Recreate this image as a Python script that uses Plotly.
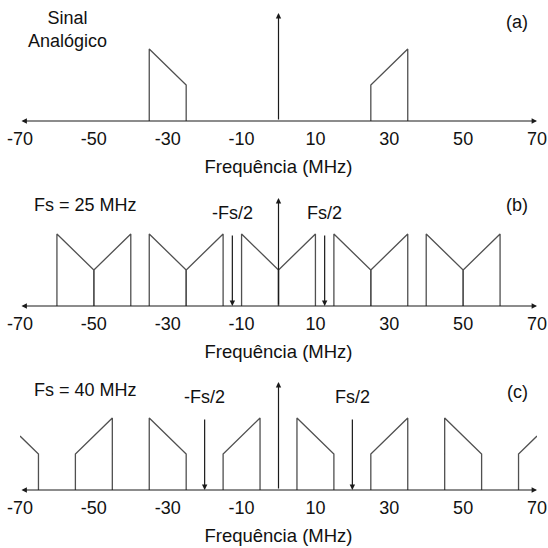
import plotly.graph_objects as go

# ---------------- data ----------------
FREQ_TICKS = [-70, -50, -30, -10, 10, 30, 50, 70]
X_MIN, X_MAX = -70, 70
BAND_WIDTH = 10          # MHz
TALL, LOW = 1.0, 0.5     # relative amplitude at band edges
AXIS_ARROW_TOP = 1.5

# (a) analog signal
A_BAND_START = [-35, 25]
A_BAND_SLOPE = ["down", "up"]

# (b) Fs = 25 MHz
B_FS = 25
B_BAND_START = [-60, -50, -35, -25, -10, 0, 15, 25, 40, 50]
B_BAND_SLOPE = ["down", "up", "down", "up", "down", "up", "down", "up", "down", "up"]

# (c) Fs = 40 MHz
C_FS = 40
C_BAND_START = [-75, -55, -35, -15, 5, 25, 45, 65]
C_BAND_SLOPE = ["down", "up", "down", "up", "down", "up", "down", "up"]

PANEL_LABELS = ["(a)", "(b)", "(c)"]
X_TITLE = "Frequência (MHz)"

# ---------------- layout constants (window pixels) ----------------
W = H = 548
ML, MR = 20, 11
PW = W - ML - MR
AXIS_PX = [121, 306, 490]      # y pixel of the frequency axis in each panel
PANEL_H = 108                  # pixel height for AXIS_ARROW_TOP
FONT = "Liberation Sans, Arial, sans-serif"
LINE_COL = "#505050"
AXIS_COL = "#1a1a1a"
TXT_COL = "#111111"


def px_x(px):
    return (px - ML) / PW


def px_y(py):
    return 1 - py / H


def band_path(start, slope):
    f0, f1 = start, start + BAND_WIDTH
    h0, h1 = (TALL, LOW) if slope == "down" else (LOW, TALL)

    def h_at(f):
        return h0 + (h1 - h0) * (f - f0) / (f1 - f0)

    xs, ys = [], []
    if f0 >= X_MIN:
        xs += [f0, f0]
        ys += [0, h0]
    else:
        xs.append(X_MIN)
        ys.append(h_at(X_MIN))
    if f1 <= X_MAX:
        xs += [f1, f1]
        ys += [h1, 0]
    else:
        xs.append(X_MAX)
        ys.append(h_at(X_MAX))
    return xs, ys


def bands_trace(starts, slopes, idx):
    X, Y = [], []
    for s, sl in zip(starts, slopes):
        xs, ys = band_path(s, sl)
        X += xs + [None]
        Y += ys + [None]
    suffix = "" if idx == 1 else str(idx)
    return go.Scatter(x=X, y=Y, mode="lines", line=dict(color=LINE_COL, width=1.3),
                      xaxis="x" + suffix, yaxis="y" + suffix, showlegend=False,
                      hoverinfo="skip", cliponaxis=False)


fig = go.Figure()
fig.add_trace(bands_trace(A_BAND_START, A_BAND_SLOPE, 1))
fig.add_trace(bands_trace(B_BAND_START, B_BAND_SLOPE, 2))
fig.add_trace(bands_trace(C_BAND_START, C_BAND_SLOPE, 3))

layout = dict(
    width=W, height=H,
    margin=dict(l=ML, r=MR, t=0, b=0),
    paper_bgcolor="white", plot_bgcolor="white",
    font=dict(family=FONT, size=18, color=TXT_COL),
    showlegend=False,
)

for i in range(3):
    suffix = "" if i == 0 else str(i + 1)
    bottom = px_y(AXIS_PX[i])
    top = px_y(AXIS_PX[i] - PANEL_H)
    layout["xaxis" + suffix] = dict(
        domain=[0, 1], range=[X_MIN, X_MAX], anchor="y" + suffix,
        tickvals=FREQ_TICKS, ticktext=[str(v) for v in FREQ_TICKS],
        showline=False, showgrid=False, zeroline=False,
        ticks="outside", ticklen=1, tickcolor="rgba(0,0,0,0)",
        ticklabeloverflow="allow",
        tickfont=dict(size=18, color=TXT_COL),
        title=dict(text=X_TITLE, standoff=12, font=dict(size=18.5, color=TXT_COL)),
        fixedrange=True,
    )
    layout["yaxis" + suffix] = dict(
        domain=[bottom, top], range=[0, AXIS_ARROW_TOP], visible=False,
        anchor="x" + suffix, fixedrange=True,
    )

fig.update_layout(**layout)

annotations = []
for i in range(3):
    suffix = "" if i == 0 else str(i + 1)
    xr, yr = "x" + suffix, "y" + suffix
    # horizontal double-headed frequency axis
    annotations.append(dict(x=X_MAX, y=0, ax=X_MIN, ay=0, xref=xr, yref=yr, axref=xr, ayref=yr,
                            showarrow=True, arrowhead=2, arrowside="end+start", arrowsize=0.9,
                            arrowwidth=1.2, arrowcolor=AXIS_COL, text=""))
    # vertical amplitude axis at 0
    annotations.append(dict(x=0, y=AXIS_ARROW_TOP, ax=0, ay=0, xref=xr, yref=yr, axref=xr, ayref=yr,
                            showarrow=True, arrowhead=2, arrowsize=0.9, arrowwidth=1.2,
                            arrowcolor=AXIS_COL, text=""))
    # panel label
    annotations.append(dict(x=px_x(517), y=px_y([22, 205, 392][i]), xanchor="center", yanchor="middle",
                            xref="paper", yref="paper", text=PANEL_LABELS[i], showarrow=False,
                            font=dict(size=18)))

# text for (a)
annotations.append(dict(x=px_x(67), y=px_y(30), xanchor="center", yanchor="middle",
                        xref="paper", yref="paper",
                        text="Sinal<br>Analógico", showarrow=False, font=dict(size=18)))

for i, fs in [(2, B_FS), (3, C_FS)]:
    xr, yr = "x" + str(i), "y" + str(i)
    annotations.append(dict(x=px_x(85), y=px_y([205, 390][i - 2]), xanchor="center", yanchor="middle",
                            xref="paper", yref="paper", text=f"Fs = {fs} MHz",
                            showarrow=False, font=dict(size=18)))
    for sign, lab in [(-1, "-Fs/2"), (1, "Fs/2")]:
        fx = sign * fs / 2
        annotations.append(dict(x=fx, y=0, ax=fx, ay=TALL, xref=xr, yref=yr, axref=xr, ayref=yr,
                                showarrow=True, arrowhead=2, arrowsize=0.9, arrowwidth=1.2,
                                arrowcolor=AXIS_COL, text=""))
        annotations.append(dict(x=fx, y=1.29, xref=xr, yref=yr, text=lab, showarrow=False,
                                xanchor="center", yanchor="middle", font=dict(size=18)))

fig.update_layout(annotations=annotations)
fig.write_html(
    "out.html",
    config={"displayModeBar": False, "staticPlot": True},
    post_script="document.body.style.margin='0';document.body.style.overflow='hidden';",
)
